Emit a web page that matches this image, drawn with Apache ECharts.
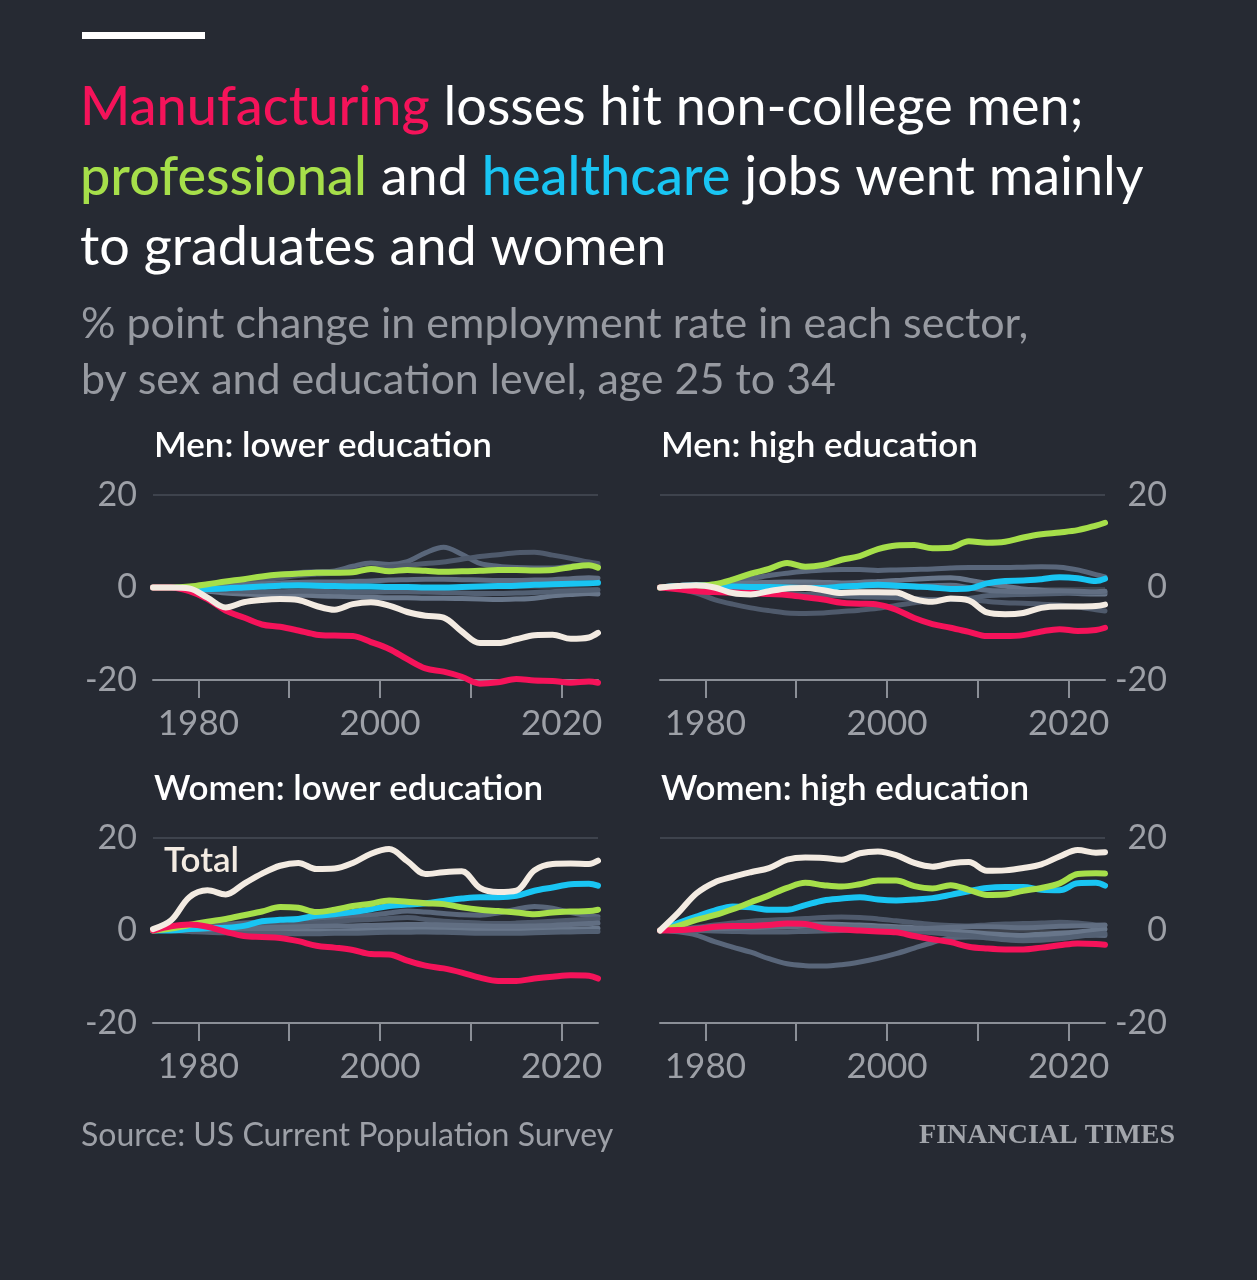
<!DOCTYPE html>
<html>
<head>
<meta charset="utf-8">
<title>Manufacturing losses hit non-college men</title>
<script src="https://cdn.jsdelivr.net/npm/echarts@6/dist/echarts.min.js"></script>
<style>
  html, body { margin: 0; padding: 0; background: #262a33; }
  #chart1 { width: 1257px; height: 1280px; }
</style>
</head>
<body>
<div id="chart1"></div>
<script>
// years (every second year, plus the last one)
const years = [1975, 1977, 1979, 1981, 1983, 1985, 1987, 1989, 1991, 1993, 1995, 1997, 1999,
  2001, 2003, 2005, 2007, 2009, 2011, 2013, 2015, 2017, 2019, 2021, 2023, 2024];
const tickYears = [1980, 1990, 2000, 2010, 2020];
const labelYears = [1980, 2000, 2020];
const yTicks = [-20, 0, 20];

// Men: lower education
const menLowManufacturing = [0, 0, -0.8, -2.5, -5, -6.5, -8, -8.5, -9.3, -10.2, -10.4, -10.5, -11.8, -13.3, -15.5, -17.5, -18.2, -19.3, -20.8, -20.5, -19.8, -20.1, -20.2, -20.6, -20.3, -20.6];
const menLowProfessional = [0, 0, 0.2, 0.7, 1.3, 1.8, 2.4, 2.8, 3.0, 3.2, 3.2, 3.3, 4.0, 3.5, 3.8, 3.6, 3.4, 3.5, 3.6, 3.8, 3.8, 3.7, 3.8, 4.4, 4.8, 4.3];
const menLowHealthcare = [0, 0, -0.2, -0.3, -0.2, 0, 0.2, 0.4, 0.5, 0.4, 0.3, 0.2, 0.2, 0.1, 0.1, 0, 0, 0.1, 0.2, 0.3, 0.4, 0.6, 0.7, 0.8, 0.9, 1.0];
const menLowTotal = [0, 0, -0.2, -2.2, -4.3, -3.2, -2.7, -2.5, -2.7, -4, -4.8, -3.6, -3.2, -3.9, -5.3, -6.1, -6.5, -9.5, -12, -12, -11.2, -10.3, -10.2, -11.1, -10.8, -9.8];
const menLowOther = [
  [0, 0, 0.1, 0.5, 1.0, 1.6, 2.2, 2.8, 3.2, 3.4, 3.6, 4.6, 5.3, 5.0, 5.6, 7.5, 8.7, 7.2, 5.2, 4.6, 4.3, 4.2, 4.2, 4.6, 4.9, 4.8],
  [0, 0, 0, 0.3, 0.8, 1.2, 1.6, 2.1, 2.6, 2.9, 3.1, 3.6, 4.1, 4.4, 4.8, 5.2, 5.5, 6.1, 6.7, 7.1, 7.5, 7.6, 7.0, 6.3, 5.5, 5.2],
  [0, 0, -0.3, -0.8, -1.2, -1.4, -1.5, -1.5, -1.6, -1.8, -1.9, -2.0, -2.1, -2.2, -2.2, -2.3, -2.3, -2.4, -2.5, -2.6, -2.5, -2.3, -1.8, -1.5, -1.3, -1.4],
  [0, 0, -0.2, -0.5, -0.7, -0.8, -0.9, -0.9, -0.8, -0.8, -0.9, -1.0, -1.0, -0.9, -0.9, -1.0, -1.1, -1.2, -1.3, -1.3, -1.2, -1.1, -0.9, -0.7, -0.6, -0.5],
  [0, 0, 0.1, 0.3, 0.4, 0.6, 0.8, 1.0, 1.1, 1.2, 1.2, 1.3, 1.4, 1.6, 1.7, 1.8, 1.8, 1.7, 1.6, 1.5, 1.5, 1.6, 1.7, 1.9, 2.1, 2.0]
];

// Men: high education
const menHighManufacturing = [0, -0.4, -0.8, -1.0, -1.1, -1.2, -1.4, -1.6, -2.1, -2.6, -3.3, -3.5, -3.7, -4.8, -6.6, -7.9, -8.7, -9.6, -10.5, -10.5, -10.3, -9.5, -9.0, -9.4, -9.2, -8.7];
const menHighProfessional = [0, 0.2, 0.4, 0.7, 1.7, 3.0, 4.0, 5.3, 4.5, 4.9, 6.0, 6.8, 8.3, 9.1, 9.2, 8.5, 8.6, 10.0, 9.7, 9.9, 10.8, 11.5, 11.9, 12.4, 13.4, 14.0];
const menHighHealthcare = [0, 0.3, 0.5, 0.5, 0.2, 0.1, 0.1, 0, -0.1, -0.1, 0.2, 0.4, 0.6, 0.4, 0.2, 0, -0.3, -0.2, 0.9, 1.4, 1.5, 1.8, 2.2, 2.0, 1.4, 1.9];
const menHighTotal = [0, 0.3, 0.5, 0, -1.2, -1.5, -0.8, -0.2, -0.1, -0.6, -1.2, -1.0, -1.0, -1.1, -2.5, -3.1, -2.4, -2.8, -5.4, -5.8, -5.5, -4.4, -4.1, -4.1, -4.0, -3.7];
const menHighOther = [
  [0, 0.2, 0.3, 0.6, 1.2, 1.9, 2.6, 3.1, 3.5, 3.8, 3.9, 3.9, 3.7, 3.8, 3.9, 4.0, 4.2, 4.3, 4.3, 4.3, 4.4, 4.5, 4.4, 3.8, 2.8, 2.3],
  [0, -0.3, -1.2, -2.6, -3.6, -4.4, -5.0, -5.5, -5.6, -5.5, -5.2, -4.9, -4.5, -3.9, -3.3, -2.8, -2.5, -2.6, -3.0, -3.3, -3.4, -3.6, -3.8, -4.2, -4.8, -5.1],
  [0, 0.1, 0.3, 0.5, 0.8, 1.0, 1.1, 1.2, 1.2, 1.1, 1.0, 1.1, 1.3, 1.5, 1.8, 2.0, 2.1, 1.6, 0.9, 0.3, -0.3, -0.6, -0.9, -1.3, -1.4, -1.4],
  [0, -0.2, -0.4, -0.7, -1.0, -1.2, -1.3, -1.4, -1.5, -1.6, -1.8, -2.0, -2.1, -2.2, -2.4, -2.6, -2.6, -2.4, -1.8, -1.6, -1.5, -1.4, -1.3, -1.2, -1.1, -1.0],
  [0, 0.1, 0.1, 0.0, -0.1, 0.0, 0.2, 0.4, 0.5, 0.6, 0.6, 0.5, 0.4, 0.3, 0.3, 0.4, 0.5, 0.0, -0.6, -0.8, -0.9, -0.8, -0.7, -0.8, -0.9, -0.8]
];

// Women: lower education
const womenLowManufacturing = [0, 0.9, 1.3, 0.8, -0.3, -1.2, -1.4, -1.6, -2.3, -3.3, -3.7, -4.2, -5.1, -5.2, -6.5, -7.6, -8.2, -9.1, -10.2, -10.9, -10.9, -10.4, -10.0, -9.7, -9.8, -10.4];
const womenLowProfessional = [0, 0.4, 1.2, 1.9, 2.5, 3.3, 4.1, 5.1, 4.9, 4.0, 4.5, 5.3, 5.8, 6.5, 6.2, 5.9, 5.7, 5.0, 4.5, 4.2, 3.9, 3.5, 3.9, 4.1, 4.2, 4.5];
const womenLowHealthcare = [0, 0, 0.3, 0.5, 0.6, 1.0, 2.0, 2.3, 2.5, 3.2, 3.5, 4.0, 4.6, 5.3, 5.6, 5.9, 6.4, 6.9, 7.2, 7.2, 7.5, 8.6, 9.3, 10.0, 10.1, 9.7];
const womenLowTotal = [0.3, 2.2, 7.2, 8.7, 7.8, 10.1, 12.3, 14.0, 14.6, 13.3, 13.4, 14.6, 16.6, 17.6, 15.0, 12.2, 12.6, 12.8, 9.2, 8.3, 8.6, 13.0, 14.4, 14.5, 14.4, 15.1];
const womenLowOther = [
  [0, 0.2, 0.6, 1.0, 1.3, 1.6, 1.9, 2.2, 2.4, 2.6, 2.8, 3.0, 3.3, 3.8, 4.2, 4.0, 3.7, 3.4, 3.3, 3.8, 4.6, 5.2, 4.8, 3.9, 3.2, 3.0],
  [0, 0.1, 0.3, 0.5, 0.7, 0.8, 1.0, 1.2, 1.4, 1.6, 1.9, 2.2, 2.4, 2.6, 2.8, 2.4, 2.0, 1.8, 1.6, 1.5, 1.6, 1.8, 2.0, 2.2, 2.4, 2.5],
  [0, 0, -0.1, -0.2, -0.3, -0.3, -0.2, -0.2, -0.2, -0.1, -0.1, 0, 0.1, 0.3, 0.4, 0.5, 0.5, 0.4, 0.3, 0.2, 0.1, 0.1, 0.2, 0.3, 0.4, 0.5],
  [0, 0, -0.2, -0.4, -0.5, -0.6, -0.6, -0.6, -0.7, -0.7, -0.6, -0.6, -0.5, -0.4, -0.4, -0.3, -0.4, -0.5, -0.6, -0.6, -0.6, -0.5, -0.4, -0.3, -0.2, -0.2],
  [0, 0.1, 0.2, 0.3, 0.4, 0.5, 0.6, 0.7, 0.8, 0.9, 1.0, 1.0, 1.1, 1.2, 1.3, 1.3, 1.2, 1.1, 1.0, 0.9, 0.9, 1.0, 1.1, 1.3, 1.5, 1.6]
];

// Women: high education
const womenHighManufacturing = [0, 0.1, 0.3, 0.8, 1.0, 1.0, 1.2, 1.5, 1.4, 0.5, 0.2, 0.0, -0.2, -0.4, -1.2, -1.9, -2.5, -3.5, -3.9, -4.1, -4.1, -3.7, -3.2, -2.8, -2.9, -3.1];
const womenHighProfessional = [0, 1.0, 2.3, 3.3, 4.6, 6.1, 7.6, 9.2, 10.3, 9.8, 9.5, 10.0, 10.8, 10.8, 9.6, 9.1, 9.8, 8.8, 7.7, 7.8, 8.6, 9.2, 10.2, 12.2, 12.4, 12.3];
const womenHighHealthcare = [0, 1.6, 3.0, 4.3, 5.2, 5.0, 4.5, 4.5, 5.5, 6.5, 6.9, 7.2, 6.7, 6.5, 6.7, 7.0, 7.7, 8.5, 9.2, 9.4, 9.4, 8.8, 8.7, 10.2, 10.3, 9.7];
const womenHighTotal = [0, 3.8, 8.0, 10.4, 11.6, 12.6, 13.5, 15.3, 15.8, 15.7, 15.3, 16.7, 17.1, 16.3, 14.6, 13.8, 14.5, 14.8, 12.9, 13.0, 13.5, 14.3, 16.0, 17.4, 16.8, 16.9];
const womenHighOther = [
  [0, -0.3, -1.0, -2.4, -3.6, -4.7, -6.1, -7.2, -7.6, -7.7, -7.4, -6.8, -6.0, -5.0, -3.8, -2.6, -1.6, -1.4, -1.5, -1.6, -1.5, -1.4, -1.2, -1.1, -1.0, -1.1],
  [0, 0.3, 0.7, 1.2, 1.6, 2.0, 2.2, 2.4, 2.6, 2.8, 2.9, 2.8, 2.5, 2.1, 1.7, 1.3, 1.1, 1.0, 1.2, 1.4, 1.5, 1.6, 1.8, 1.6, 1.2, 1.1],
  [0, 0.2, 0.5, 0.8, 1.0, 1.1, 1.2, 1.3, 1.4, 1.4, 1.3, 1.2, 1.0, 0.8, 0.6, 0.3, 0.0, -0.4, -0.7, -0.9, -1.0, -0.8, -0.6, -0.3, 0.1, 0.3],
  [0, 0, 0, -0.1, -0.2, -0.3, -0.3, -0.3, -0.2, -0.1, 0, 0.1, 0.1, 0, -0.2, -0.5, -0.8, -1.1, -1.6, -2.0, -2.2, -2.1, -1.8, -1.3, -0.8, -0.6],
  [0, 0.1, 0.3, 0.4, 0.5, 0.6, 0.7, 0.8, 0.9, 1.0, 0.9, 0.8, 0.6, 0.5, 0.4, 0.5, 0.7, 0.8, 0.8, 0.7, 0.6, 0.7, 0.9, 1.0, 1.1, 1.2]
];

const panelTitles = ['Men: lower education', 'Men: high education', 'Women: lower education', 'Women: high education'];

const BG = '#262a33';
const RED = '#f5135a';
const GREEN = '#a6df4a';
const BLUE = '#19c5f3';
const CREAM = '#f3ebe2';
const GREYS = ['#59667a', '#4f5a6c', '#68768a', '#536073', '#616e82'];
const LABEL = '#9da0a7';
const FONT = 'Lato, "Noto Sans", sans-serif';

const getOptionChart1 = () => {
    const panels = [
        { manufacturing: menLowManufacturing, professional: menLowProfessional, healthcare: menLowHealthcare, total: menLowTotal, other: menLowOther },
        { manufacturing: menHighManufacturing, professional: menHighProfessional, healthcare: menHighHealthcare, total: menHighTotal, other: menHighOther },
        { manufacturing: womenLowManufacturing, professional: womenLowProfessional, healthcare: womenLowHealthcare, total: womenLowTotal, other: womenLowOther },
        { manufacturing: womenHighManufacturing, professional: womenHighProfessional, healthcare: womenHighHealthcare, total: womenHighTotal, other: womenHighOther }
    ];
    const grids = [
        { left: 153, top: 495, width: 445, height: 185 },
        { left: 660, top: 495, width: 445, height: 185 },
        { left: 153, top: 838, width: 445, height: 185 },
        { left: 660, top: 838, width: 445, height: 185 }
    ];

    const pairs = (vals) => years.map((y, i) => [y, vals[i]]);
    const line = (vals, idx, color, width, z) => ({
        type: 'line',
        xAxisIndex: idx,
        yAxisIndex: idx,
        data: pairs(vals),
        showSymbol: false,
        smooth: 0.35,
        clip: false,
        silent: true,
        z: z,
        lineStyle: { color: color, width: width, cap: 'round', join: 'round' }
    });

    const series = [];
    panels.forEach((p, idx) => {
        p.other.forEach((vals, k) => series.push(line(vals, idx, GREYS[k % GREYS.length], 5, 2)));
        series.push(line(p.healthcare, idx, BLUE, 6, 3));
        series.push(line(p.professional, idx, GREEN, 6, 4));
        series.push(line(p.manufacturing, idx, RED, 6, 5));
        const tot = line(p.total, idx, CREAM, 6, 6);
        if (idx === 2) {
            // "Total" label sits above the start of the line
            tot.markPoint = {
                symbol: 'rect',
                symbolSize: 1,
                itemStyle: { color: 'transparent' },
                data: [{ coord: [1976.2, 15.1] }],
                label: {
                    show: true, formatter: 'Total', position: 'inside', align: 'left',
                    color: CREAM, fontSize: 35, fontWeight: 600, fontFamily: FONT
                }
            };
        }
        series.push(tot);
    });

    const xAxis = grids.map((g, idx) => ({
        type: 'value',
        gridIndex: idx,
        min: 1975,
        max: 2024,
        axisLine: { show: true, onZero: false, lineStyle: { color: '#8b8f97', width: 2 } },
        axisTick: { show: true, customValues: tickYears, length: 18, lineStyle: { color: '#8b8f97', width: 2 } },
        axisLabel: {
            customValues: labelYears, color: LABEL, fontSize: 35, fontFamily: FONT, margin: 26,
            formatter: (v) => String(v)
        },
        splitLine: { show: false }
    }));

    const yAxis = grids.map((g, idx) => ({
        type: 'value',
        gridIndex: idx,
        min: yTicks[0],
        max: yTicks[yTicks.length - 1],
        interval: 20,
        position: idx % 2 === 0 ? 'left' : 'right',
        axisLine: { show: false },
        axisTick: { show: false },
        axisLabel: {
            color: LABEL, fontSize: 34, fontFamily: FONT,
            margin: idx % 2 === 0 ? 16 : 62,
            align: 'right'
        },
        splitLine: { show: true, lineStyle: { color: '#474c57', width: 1.5 } }
    }));

    const panelTitleItems = panelTitles.map((t, idx) => ({
        text: t,
        left: grids[idx].left + 1,
        top: grids[idx].top - 69,
        padding: 0,
        textStyle: { color: '#ffffff', fontSize: 35, fontWeight: 600, fontFamily: FONT, lineHeight: 40 }
    }));

    const head = { color: '#ffffff', fontSize: 54, fontWeight: 400, fontFamily: FONT, lineHeight: 70 };
    const hl = (c) => ({ color: c, fontSize: 54, fontWeight: 500, fontFamily: FONT, lineHeight: 70 });
    const headRich = { m: hl(RED), p: hl(GREEN), h: hl(BLUE), w: head };
    const sub = { color: '#979aa1', fontSize: 43, fontWeight: 400, fontFamily: FONT, lineHeight: 56 };

    return {
        backgroundColor: BG,
        animation: false,
        title: [
            { text: '{m|Manufacturing}{w| losses hit non-college men;}', left: 80, top: 73, padding: 0, textStyle: Object.assign({}, head, { rich: headRich }) },
            { text: '{p|professional}{w| and }{h|healthcare}{w| jobs went mainly}', left: 80, top: 143, padding: 0, textStyle: Object.assign({}, head, { rich: headRich }) },
            { text: 'to graduates and women', left: 80, top: 213, padding: 0, textStyle: head },
            { text: '% point change in employment rate in each sector,', left: 81, top: 296, padding: 0, textStyle: sub },
            { text: 'by sex and education level, age 25 to 34', left: 81, top: 352, padding: 0, textStyle: sub },
            ...panelTitleItems,
            { text: 'Source: US Current Population Survey', left: 81, top: 1117, padding: 0,
              textStyle: { color: '#9da0a7', fontSize: 32, fontWeight: 400, fontFamily: FONT, lineHeight: 38 } },
            { text: 'FINANCIAL TIMES', right: 82, top: 1119, padding: 0,
              textStyle: { color: '#a2a5ab', fontSize: 28, fontWeight: 'bold', fontFamily: '"Liberation Serif", "DejaVu Serif", serif', lineHeight: 34 } }
        ],
        graphic: [
            { type: 'rect', left: 82, top: 32, shape: { width: 123, height: 7 }, style: { fill: '#ffffff' } }
        ],
        grid: grids,
        xAxis: xAxis,
        yAxis: yAxis,
        series: series
    };
};

const initCharts = () => {
    const chart1 = echarts.init(document.getElementById('chart1'), null, { renderer: 'canvas' });
    chart1.setOption(getOptionChart1());
};

window.addEventListener('load', () => {
    initCharts();
});
</script>
</body>
</html>
